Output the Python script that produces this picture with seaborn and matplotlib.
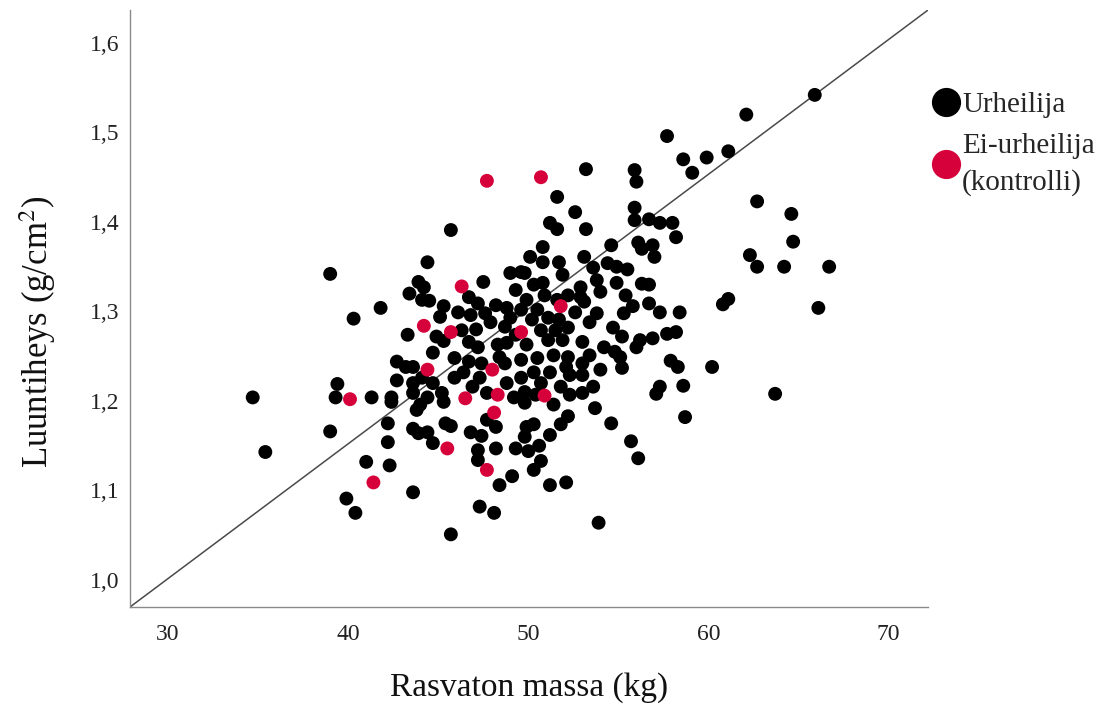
import matplotlib
matplotlib.use("Agg")
import matplotlib.pyplot as plt
import seaborn as sns
import pandas as pd
from matplotlib.lines import Line2D
from matplotlib.ticker import FuncFormatter

# ---- data: athletes (Urheilija) ----
athlete_mass = [
    65.9, 62.1, 57.7, 61.1, 59.9, 58.6, 59.1, 55.9, 56.0, 53.2, 51.6, 52.6, 51.2, 45.7, 62.7, 64.6,
    55.9, 55.9, 56.7, 57.3, 58.0, 51.6, 53.2, 56.1, 56.3, 56.9, 57.0, 58.2, 64.7, 62.3, 62.7, 64.2,
    66.7, 55.5, 56.3, 56.7, 55.4, 55.8, 55.3, 56.7, 57.3, 58.4, 60.8, 61.1, 66.1, 55.2, 56.2, 56.0,
    56.9, 57.7, 58.2, 57.9, 58.3, 55.1, 55.2, 60.2, 57.3, 57.1, 58.6, 63.7, 58.7, 55.7, 56.1, 49.8,
    51.4, 53.7, 52.2, 51.8, 54.6, 50.3, 49.9, 49.8, 51.2, 50.6, 50.0, 49.3, 50.7, 50.3, 49.1, 48.4,
    51.2, 52.1, 53.9, 42.4, 44.0, 45.3, 43.8, 42.2, 43.6, 43.9, 44.4, 44.7, 45.4, 45.7, 46.8, 47.4,
    47.2, 47.2, 47.7, 48.2, 48.2, 42.2, 42.3, 43.6, 47.3, 48.1, 45.7, 39.0, 35.4, 41.0, 39.9, 40.4,
    39.0, 40.3, 41.8, 39.4, 34.7, 39.3, 41.3, 44.4, 43.9, 44.2, 43.4, 44.1, 44.5, 47.5, 46.7, 47.2,
    47.6, 45.3, 45.1, 46.1, 43.3, 44.9, 45.3, 46.3, 47.1, 46.7, 47.2, 48.3, 44.7, 42.7, 43.2, 43.6,
    45.9, 46.7, 47.4, 48.4, 42.7, 43.6, 44.1, 44.7, 45.2, 45.9, 46.4, 46.9, 47.7, 42.4, 43.6, 44.4,
    50.8, 50.1, 50.8, 51.7, 53.1, 53.6, 54.6, 54.4, 54.9, 49.0, 49.6, 49.8, 51.9, 50.3, 50.8, 52.9,
    53.8, 54.0, 54.9, 51.6, 52.2, 52.9, 53.1, 49.9, 48.8, 49.6, 50.5, 52.6, 53.8, 49.0, 50.2, 51.1,
    51.7, 53.4, 48.7, 50.7, 52.2, 54.7, 51.1, 51.9, 53.0, 48.8, 49.9, 54.2, 54.8, 51.4, 52.2, 50.5,
    49.6, 48.7, 52.1, 53.0, 50.3, 51.2, 52.3, 53.0, 49.6, 48.8, 50.7, 51.8, 53.6, 53.0, 49.8, 49.2,
    49.3, 50.9, 48.2, 47.9, 49.3, 51.5, 47.3, 50.4, 52.3, 53.4, 54.0, 46.8,
]
athlete_bmd = [
    1.542, 1.520, 1.496, 1.479, 1.472, 1.470, 1.455, 1.458, 1.445, 1.459, 1.428, 1.411, 1.399, 1.391, 1.423, 1.409,
    1.416, 1.402, 1.403, 1.399, 1.399, 1.392, 1.392, 1.377, 1.370, 1.374, 1.361, 1.383, 1.378, 1.363, 1.350, 1.350,
    1.350, 1.347, 1.331, 1.330, 1.318, 1.306, 1.298, 1.309, 1.299, 1.299, 1.308, 1.314, 1.304, 1.272, 1.268, 1.260,
    1.270, 1.275, 1.277, 1.245, 1.238, 1.249, 1.237, 1.238, 1.216, 1.208, 1.217, 1.208, 1.182, 1.155, 1.136, 1.198,
    1.196, 1.192, 1.183, 1.174, 1.175, 1.174, 1.171, 1.160, 1.162, 1.150, 1.144, 1.147, 1.133, 1.123, 1.116, 1.106,
    1.106, 1.109, 1.064, 1.199, 1.196, 1.199, 1.190, 1.175, 1.169, 1.164, 1.165, 1.153, 1.175, 1.172, 1.165, 1.161,
    1.145, 1.134, 1.179, 1.171, 1.147, 1.154, 1.128, 1.098, 1.082, 1.075, 1.051, 1.166, 1.143, 1.132, 1.091, 1.075,
    1.342, 1.292, 1.304, 1.219, 1.204, 1.204, 1.204, 1.355, 1.333, 1.327, 1.320, 1.313, 1.312, 1.333, 1.316, 1.309,
    1.298, 1.306, 1.294, 1.299, 1.274, 1.272, 1.267, 1.279, 1.280, 1.266, 1.260, 1.263, 1.254, 1.244, 1.238, 1.238,
    1.248, 1.244, 1.242, 1.249, 1.223, 1.220, 1.226, 1.220, 1.209, 1.226, 1.232, 1.216, 1.209, 1.204, 1.209, 1.204,
    1.372, 1.361, 1.355, 1.355, 1.361, 1.349, 1.374, 1.354, 1.350, 1.343, 1.344, 1.343, 1.341, 1.330, 1.332, 1.327,
    1.335, 1.322, 1.332, 1.313, 1.318, 1.316, 1.311, 1.313, 1.304, 1.302, 1.302, 1.299, 1.298, 1.293, 1.291, 1.293,
    1.291, 1.288, 1.283, 1.279, 1.282, 1.282, 1.268, 1.268, 1.266, 1.265, 1.263, 1.260, 1.255, 1.251, 1.249, 1.248,
    1.246, 1.242, 1.238, 1.242, 1.232, 1.232, 1.229, 1.229, 1.226, 1.220, 1.220, 1.216, 1.216, 1.209, 1.210, 1.204,
    1.324, 1.318, 1.307, 1.288, 1.274, 1.279, 1.226, 1.207, 1.207, 1.251, 1.235, 1.296,
]

# ---- data: controls (Ei-urheilija) ----
control_mass = [47.7, 50.7, 46.3, 44.2, 45.7, 51.8, 49.6, 44.4, 48.0, 40.1, 46.5, 48.3, 50.9, 48.1, 45.5, 47.7, 41.4]
control_bmd = [1.446, 1.450, 1.328, 1.284, 1.277, 1.306, 1.277, 1.235, 1.235, 1.202, 1.203, 1.207, 1.206, 1.187, 1.147, 1.123, 1.109]

group_labels = ["Urheilija", "Ei-urheilija\n(kontrolli)"]
group_colors = ["#000000", "#D6003A"]

x_label = "Rasvaton massa (kg)"
y_label = "Luuntiheys (g/cm$^2$)"
x_ticks = [30, 40, 50, 60, 70]
y_ticks = [1.0, 1.1, 1.2, 1.3, 1.4, 1.5, 1.6]
x_range = [27.9, 72.2]
y_range = [0.970, 1.637]

df = pd.DataFrame({
    "mass": athlete_mass + control_mass,
    "bmd": athlete_bmd + control_bmd,
    "group": [group_labels[0]] * len(athlete_mass) + [group_labels[1]] * len(control_mass),
})

sns.set_theme(style="white")
plt.rcParams["font.family"] = ["Liberation Serif", "DejaVu Serif"]
plt.rcParams["mathtext.fontset"] = "stix"

fig = plt.figure(figsize=(11.13, 7.04), dpi=100)
ax = fig.add_axes([0.117, 0.138, 0.717, 0.848])

palette = dict(zip(group_labels, group_colors))
sns.scatterplot(data=df, x="mass", y="bmd", hue="group", palette=palette,
                s=100, edgecolor="none", linewidth=0, legend=False, ax=ax, zorder=3)

# diagonal reference line from corner to corner
ax.plot(x_range, y_range, color="#4a4a4a", lw=1.1, zorder=2)

ax.set_xlim(*x_range)
ax.set_ylim(*y_range)
ax.set_xticks(x_ticks)
ax.set_yticks(y_ticks)
ax.xaxis.set_major_formatter(FuncFormatter(lambda v, p: f"{v:.0f}"))
ax.yaxis.set_major_formatter(FuncFormatter(lambda v, p: f"{v:.1f}".replace(".", ",")))
ax.tick_params(axis="both", length=0, labelsize=17, colors="#222222")
ax.tick_params(axis="x", pad=12)
ax.tick_params(axis="y", pad=8)
ax.set_xlabel(x_label, fontsize=24, labelpad=20, color="#111111")
ax.set_ylabel(y_label, fontsize=25, color="#111111")
ax.yaxis.set_label_coords(-0.09, 0.46)

for side in ["top", "right"]:
    ax.spines[side].set_visible(False)
for side in ["left", "bottom"]:
    ax.spines[side].set_color("#8a8a8a")
    ax.spines[side].set_linewidth(1.0)

handles = [Line2D([0], [0], marker="o", linestyle="none", markersize=20,
                  markerfacecolor=c, markeredgecolor=c) for c in group_colors]
leg = ax.legend(handles, group_labels, loc="upper left", bbox_to_anchor=(1.004, 0.863),
                frameon=False, fontsize=21, handletextpad=0.05, labelspacing=0.52,
                handlelength=1.0, borderaxespad=0.0, borderpad=0.0)
for t in leg.get_texts():
    t.set_linespacing(1.46)

fig.savefig("out.png", dpi=100)
